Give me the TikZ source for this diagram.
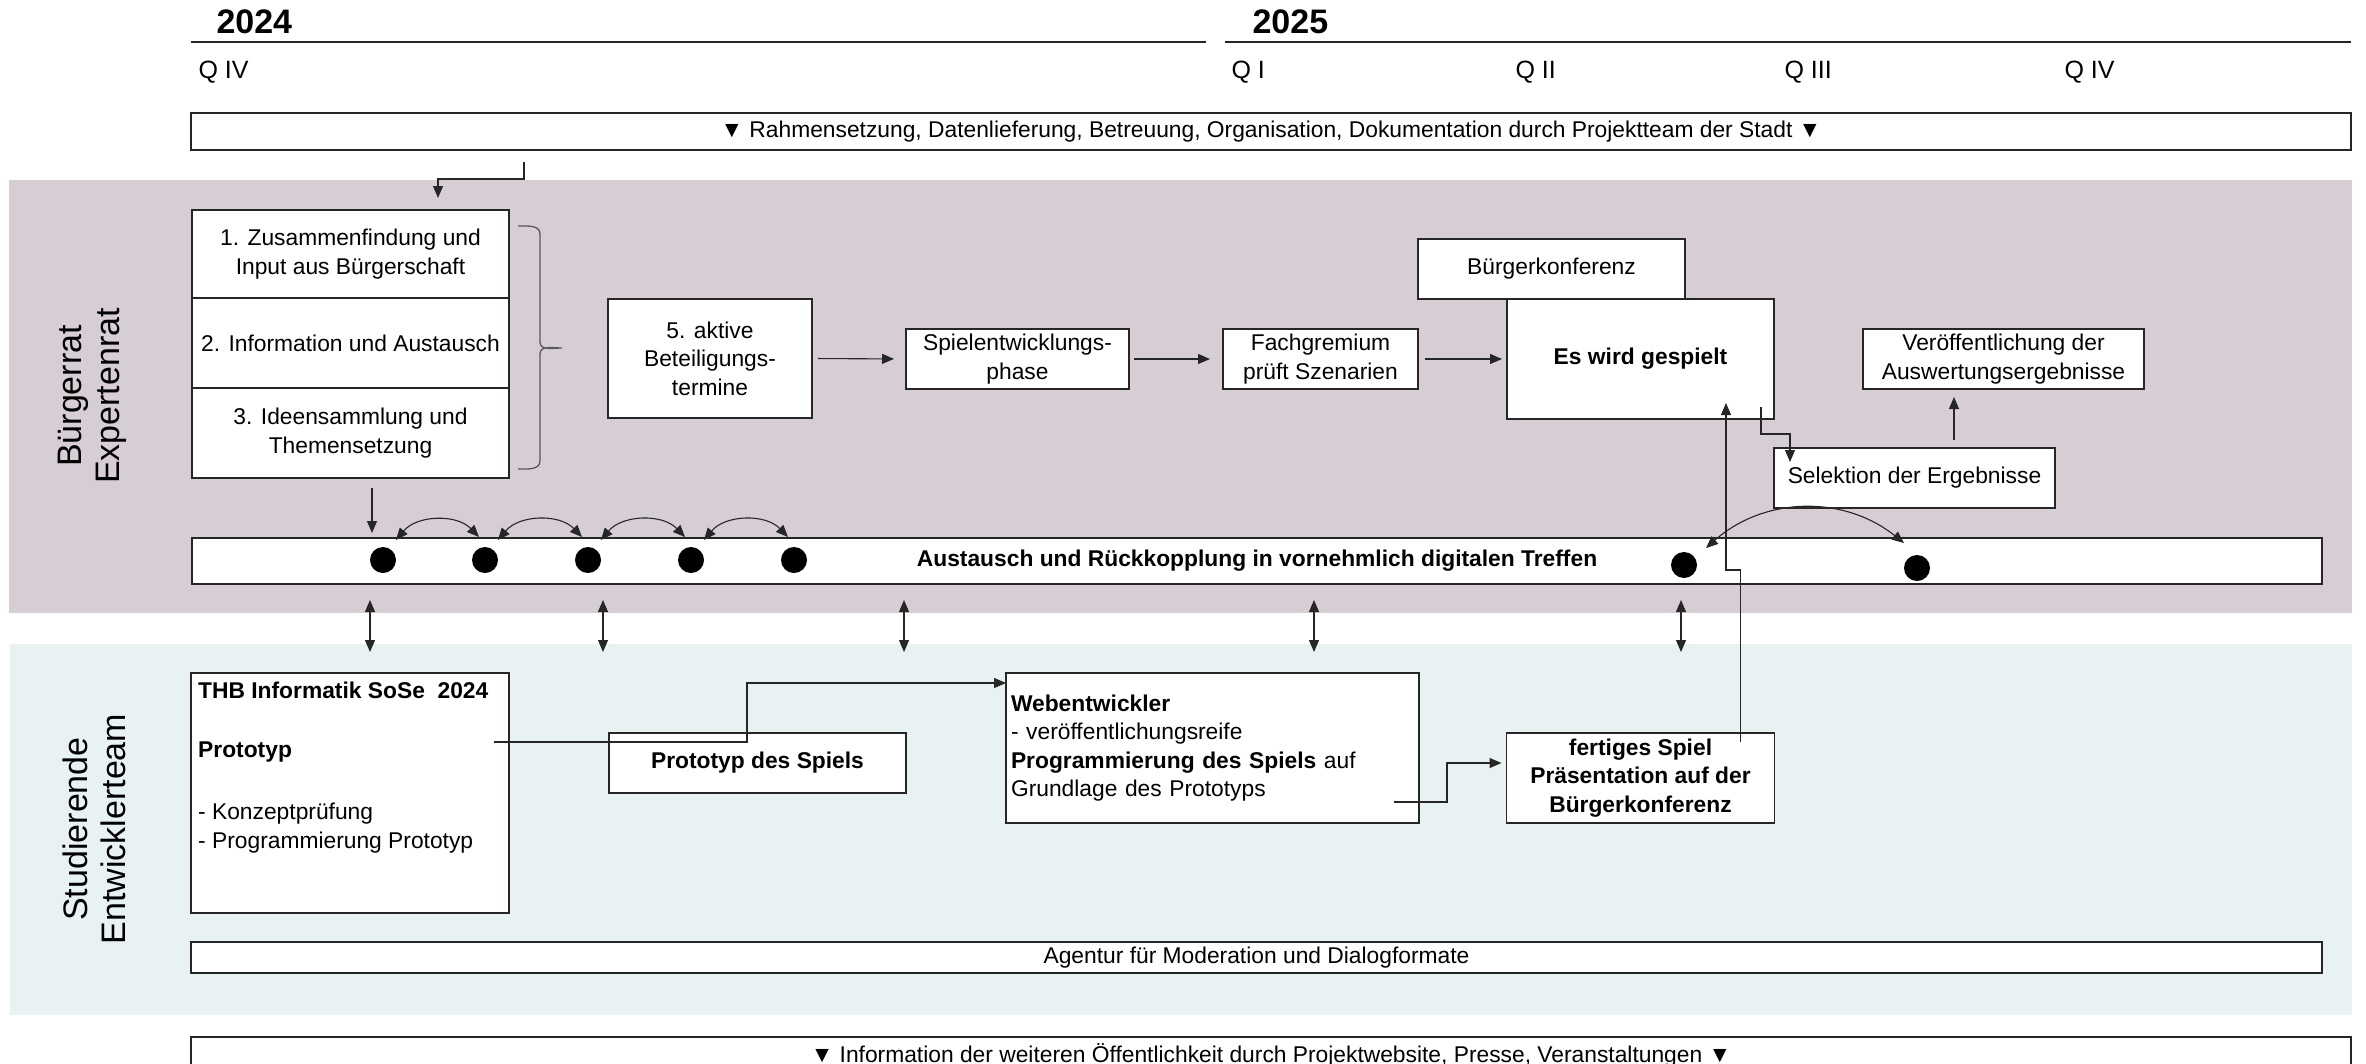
\documentclass[tikz,border=0pt]{standalone}
\usepackage{fontspec}
\setmainfont{Liberation Sans}
\usetikzlibrary{arrows.meta,positioning}
\definecolor{ratband}{RGB}{215,205,213}
\definecolor{teamband}{RGB}{233,242,243}
\newcommand{\boxfont}{\fontsize{22.8}{28.6}\selectfont}

\begin{document}
\begin{tikzpicture}[x=1pt,y=-1pt]
	\tikzstyle{abox}=[rectangle, draw=black!85, line width=1.8pt, fill=white, inner sep=0pt, outer sep=0pt, align=center, font=\boxfont]
	\tikzstyle{nwbox}=[abox, anchor=north west]
	\tikzstyle{arr}=[-{Triangle[length=12pt,width=10pt]}, line width=1.1pt, draw=black!85]
	\tikzstyle{dblarr}=[{Triangle[length=12pt,width=10pt]}-{Triangle[length=12pt,width=10pt]}, line width=1.1pt, draw=black!85]
	\tikzstyle{adot}=[circle, fill=black, inner sep=0pt, minimum size=26pt]
	\tikzstyle{lanelabel}=[rotate=90, align=center, font=\fontsize{34}{38}\selectfont]
	\tikzstyle{yearlabel}=[anchor=base west, font=\fontsize{34}{40}\selectfont\bfseries]
	\tikzstyle{qlabel}=[anchor=base west, font=\fontsize{25}{30}\selectfont]
	\useasboundingbox (0,0) rectangle (2366,1063);
	\fill[ratband] (9,180) rectangle (2352,613);
	\fill[teamband] (10,644) rectangle (2352,1015);
	\node[lanelabel] (rat) at (92,396) {Bürgerrat\\Expertenrat};
	\node[lanelabel] (team) at (94,829) {Studierende\\Entwicklerteam};
	\draw[line width=2.5pt, black!85] (191,42) -- (1206,42);
	\draw[line width=2.5pt, black!85] (1225,42) -- (2351,42);
	\node[yearlabel] (y24) at (213,33) {2024};
	\node[yearlabel] (y25) at (1249,33) {2025};
	\node[qlabel] (q4a) at (195,78) {Q IV};
	\node[qlabel] (q1) at (1228,78) {Q I};
	\node[qlabel] (q2) at (1512,78) {Q II};
	\node[qlabel] (q3) at (1781,78) {Q III};
	\node[qlabel] (q4b) at (2061,78) {Q IV};
	\node[nwbox, minimum width=2160pt, minimum height=37pt] (frame) at (191,113) {▼ Rahmensetzung, Datenlieferung, Betreuung, Organisation, Dokumentation durch Projektteam der Stadt ▼};
	\node[nwbox, minimum width=317pt, minimum height=88pt] (b1) at (192,210) {1. Zusammenfindung und\\Input aus Bürgerschaft};
	\node[abox, minimum width=317pt, minimum height=90pt, below=0pt of b1] (b2) {2. Information und Austausch};
	\node[abox, minimum width=317pt, minimum height=90pt, below=0pt of b2] (b3) {3. Ideensammlung und\\Themensetzung};
	\node[nwbox, minimum width=204pt, minimum height=119pt] (b5) at (608,299) {5. aktive\\Beteiligungs-\\termine};
	\node[nwbox, minimum width=223pt, minimum height=60pt] (spiel) at (906,329) {Spielentwicklungs-\\phase};
	\node[nwbox, minimum width=195pt, minimum height=60pt] (fach) at (1223,329) {Fachgremium\\prüft Szenarien};
	\node[nwbox, minimum width=267pt, minimum height=60pt] (bk) at (1418,239) {Bürgerkonferenz};
	\node[nwbox, minimum width=267pt, minimum height=120pt, font=\boxfont\bfseries] (es) at (1507,299) {Es wird gespielt};
	\node[nwbox, minimum width=281pt, minimum height=60pt] (veroeff) at (1863,329) {Veröffentlichung der\\Auswertungsergebnisse};
	\node[abox, minimum width=281pt, minimum height=60pt, below right=29pt and 0pt of es.south east] (sel) {Selektion der Ergebnisse};
	\node[nwbox, minimum width=2130pt, minimum height=46pt, font=\boxfont\bfseries] (xch) at (192,538) {Austausch und Rückkopplung in vornehmlich digitalen Treffen};
	\foreach \x [count=\i] in {383,485,588,691,794}
		\node[adot] (d\i) at (\x,560) {};
	\node[adot] (d6) at (1684,565) {};
	\node[adot] (d7) at (1917,568) {};
	\node[nwbox, minimum width=318pt, minimum height=240pt] (thb) at (191,673) {};
	\node[anchor=north west, align=left, inner sep=0pt, font=\fontsize{22.8}{28.8}\selectfont] (thbtext) at ([shift={(7,9)}]thb.north west) {\textbf{THB Informatik SoSe\ \ 2024}\\[30pt]\textbf{Prototyp}\\[33pt]- Konzeptprüfung\\- Programmierung Prototyp};
	\node[nwbox, minimum width=297pt, minimum height=60pt, font=\boxfont\bfseries] (proto) at (609,733) {Prototyp des Spiels};
	\node[nwbox, minimum width=413pt, minimum height=150pt, text width=403pt, align=left] (web) at (1006,673) {\textbf{Webentwickler}\\- veröffentlichungsreife\\\textbf{Programmierung des Spiels} auf\\Grundlage des Prototyps};
	\node[abox, minimum width=268pt, minimum height=90pt, font=\boxfont\bfseries, below=314pt of es] (fertig) {fertiges Spiel\\Präsentation auf der\\Bürgerkonferenz};
	\node[nwbox, minimum width=2131pt, minimum height=31pt] (agentur) at (191,942) {Agentur für Moderation und Dialogformate};
	\node[nwbox, minimum width=2160pt, minimum height=37pt] (info) at (191,1037) {▼ Information der weiteren Öffentlichkeit durch Projektwebsite, Presse, Veranstaltungen ▼};
	\draw[line width=1.3pt, black!65] ([shift={(9,16)}]b1.north east) to[out=0,in=90] ++(22,8) -- ++(0,108) to[out=-90,in=180] ++(22,6) to[out=180,in=90] ++(-22,6) -- ++(0,107) to[out=-90,in=0] ++(-22,8);
	\draw[arr] ([shift={(333,12)}]frame.south west) -- ++(0,17) -| ([shift={(246,-12)}]b1.north west);
	\draw[arr, shorten <=6pt, shorten >=12pt] (b5.east) -- (spiel.west);
	\draw[arr, shorten <=5pt, shorten >=13pt] (spiel.east) -- (fach.west);
	\draw[arr, shorten <=7pt, shorten >=5pt] (fach.east) -- (es.west);
	\draw[arr] ([shift={(-13,-12)}]es.south east) |- ++(29,27) -- ([shift={(16,14)}]sel.north west);
	\draw[arr] ([shift={(180,-8)}]sel.north west) -- ([shift={(91,8)}]veroeff.south west);
	\draw[arr] ([shift={(180,10)}]b3.south west) -- ([shift={(180,-5)}]xch.north west);
	\foreach \i/\j in {1/2,2/3,3/4,4/5}
		\draw[dblarr] ([shift={(13,-20)}]d\i.center) to[bend left=48] ([shift={(-6,-23)}]d\j.center);
	\draw[dblarr] ([shift={(22,-17)}]d6.center) to[bend left=40] ([shift={(-13,-25)}]d7.center);
	\foreach \x in {178,411,712,1122,1489}
		\draw[dblarr] ([shift={(\x,16)}]xch.south west) -- ++(0,52);
	\draw[arr] ([shift={(-15,69)}]thb.north east) -- ++(253,0) |- ([shift={(0,10)}]web.north west);
	\draw[arr] ([shift={(-25,-21)}]web.south east) -- ++(53,0) |- ([shift={(-5,-15)}]fertig.west);
	\draw[arr] ([shift={(-34,9)}]fertig.north east) -- ++(0,-172) -| ([shift={(-48,-16)}]es.south east);
\end{tikzpicture}
\end{document}
